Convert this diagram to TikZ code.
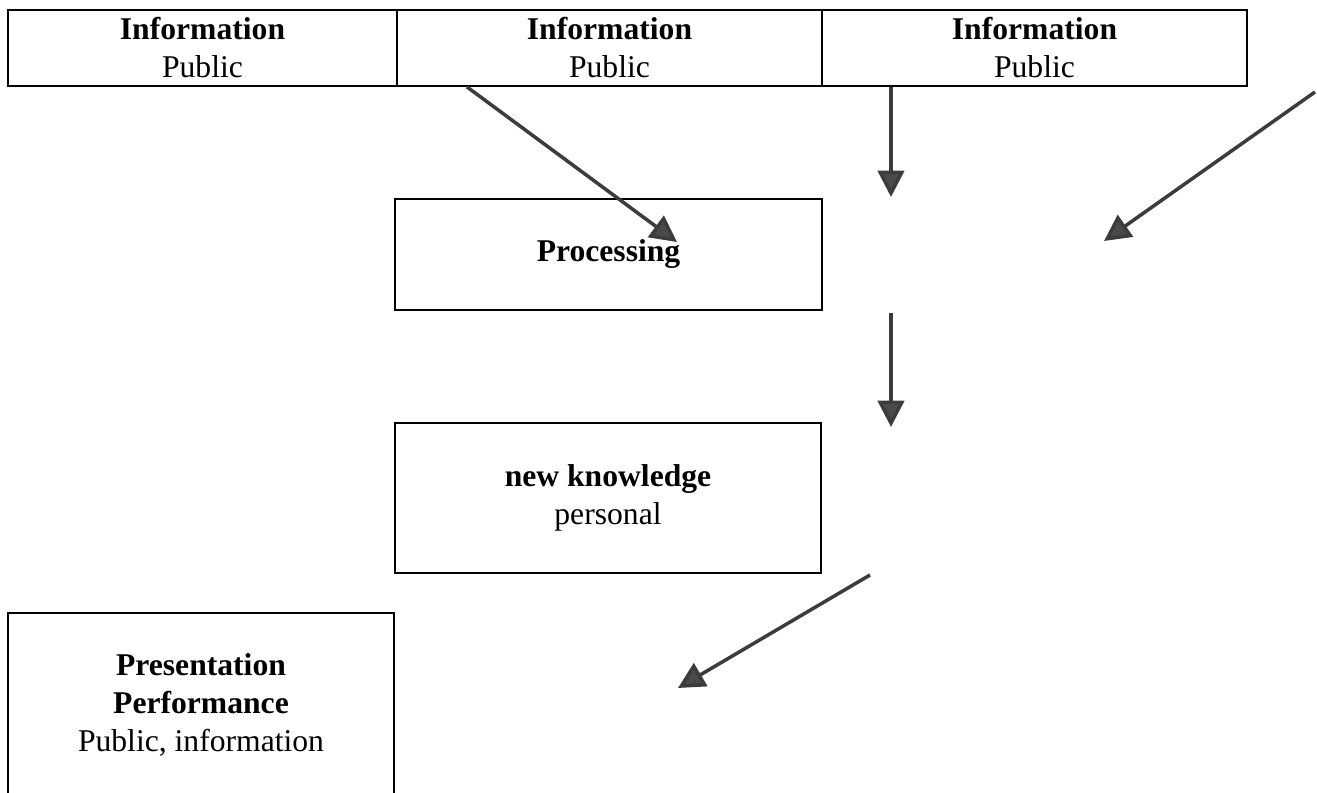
\documentclass[tikz,border=0pt]{standalone}
\usepackage{fontspec}
\setmainfont{Liberation Serif}
\usetikzlibrary{arrows.meta}
\definecolor{arrowgray}{HTML}{3C3C3C}
\definecolor{headgray}{HTML}{4A4A4A}
\begin{document}
\begin{tikzpicture}[
  box/.style={draw=black, line width=1.1pt, rectangle, align=center, inner sep=0pt,
    font=\fontsize{18}{21.6}\selectfont},
  flow/.style={draw=arrowgray, line width=2pt,
    -{Triangle[length=15pt,width=15pt,fill=headgray]}}
]
\useasboundingbox (0,0) rectangle (26.34,-15.86);
% top row
\node[box, minimum width=7.78cm, minimum height=1.52cm] (i1) at (4.05,-0.96) {\textbf{Information}\\Public};
\node[box, minimum width=8.5cm, minimum height=1.52cm] (i2) at (12.19,-0.96) {\textbf{Information}\\Public};
\node[box, minimum width=8.5cm, minimum height=1.52cm] (i3) at (20.69,-0.96) {\textbf{Information}\\Public};
% middle
\node[box, minimum width=8.54cm, minimum height=2.22cm] (proc) at (12.17,-5.09) {\textbf{Processing}};
\node[box, minimum width=8.52cm, minimum height=3.0cm] (know) at (12.16,-9.96) {\textbf{new knowledge}\\personal};
\node[box, minimum width=7.72cm, minimum height=3.68cm] (pres) at (4.02,-14.1) {\textbf{Presentation}\\\textbf{Performance}\\Public, information};
% arrow ends
\coordinate (a1s) at (i2.south -| 9.34,0);
\coordinate (a1e) at (13.54,-4.84);
\coordinate (a2s) at (i3.south -| 17.82,0);
\coordinate (a2e) at (17.82,-3.94);
\coordinate (a3s) at (26.30,-1.84);
\coordinate (a3e) at (22.08,-4.82);
\coordinate (a4s) at (17.82,-6.26);
\coordinate (a4e) at (17.82,-8.54);
\coordinate (a5s) at (17.40,-11.50);
\coordinate (a5e) at (13.56,-13.76);
\draw[flow] (a1s) -- (a1e);
\draw[flow] (a2s) -- (a2e);
\draw[flow] (a3s) -- (a3e);
\draw[flow] (a4s) -- (a4e);
\draw[flow] (a5s) -- (a5e);
\end{tikzpicture}
\end{document}
